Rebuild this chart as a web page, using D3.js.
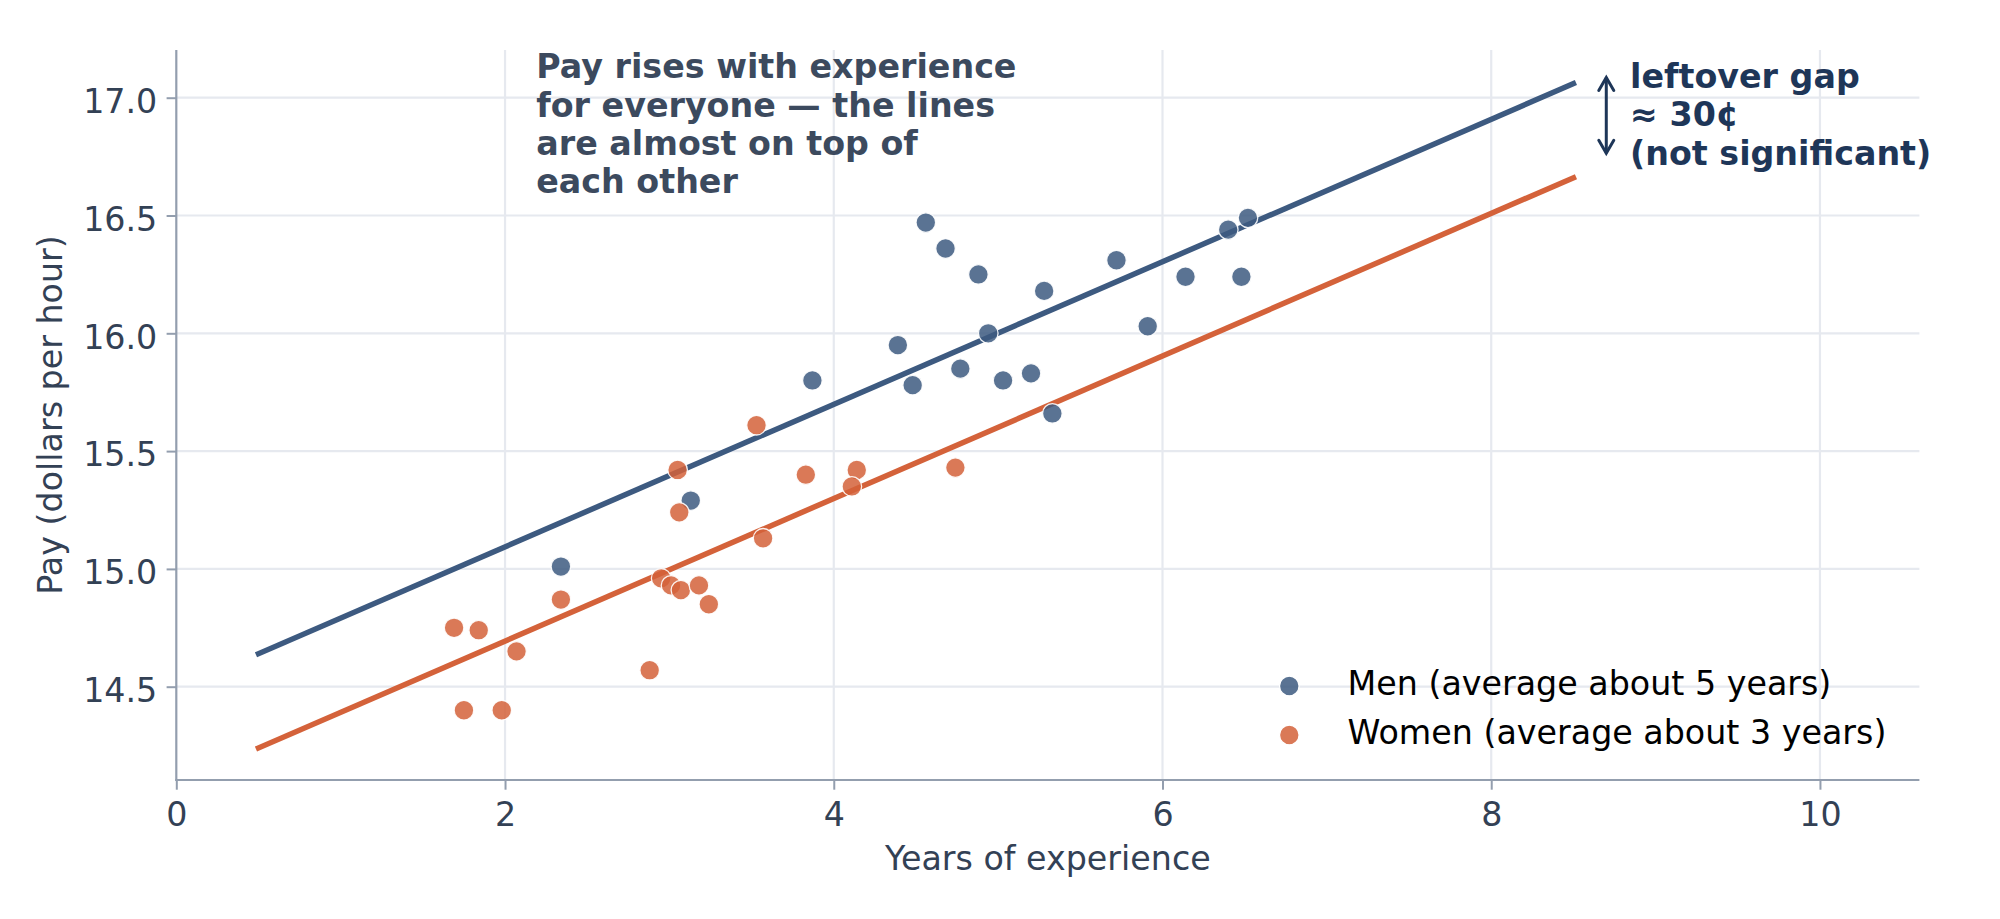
<!DOCTYPE html>
<html>
<head>
<meta charset="utf-8">
<script src="https://cdn.jsdelivr.net/npm/d3@7"></script>
<style>
  html, body { margin: 0; padding: 0; background: #ffffff; }
  svg { display: block; }
  text { font-family: "DejaVu Sans", sans-serif; }
</style>
</head>
<body>
<script>
// ---- data ----
const menX = [3.87, 4.56, 4.68, 4.88, 5.28, 5.72, 6.40, 6.52, 6.14, 6.48, 5.91, 4.94, 4.39, 4.48, 4.77, 5.03, 5.20, 5.33, 3.13, 2.34];
const menY = [15.80, 16.47, 16.36, 16.25, 16.18, 16.31, 16.44, 16.49, 16.24, 16.24, 16.03, 16.00, 15.95, 15.78, 15.85, 15.80, 15.83, 15.66, 15.29, 15.01];
const womenX = [3.53, 3.05, 3.06, 3.83, 4.14, 4.11, 3.57, 2.34, 2.95, 3.01, 3.07, 3.18, 3.24, 1.69, 1.84, 2.07, 2.88, 1.75, 1.98, 4.74];
const womenY = [15.61, 15.42, 15.24, 15.40, 15.42, 15.35, 15.13, 14.87, 14.96, 14.93, 14.91, 14.93, 14.85, 14.75, 14.74, 14.65, 14.57, 14.40, 14.40, 15.43];
const fitX = [0.5, 8.5];
const menFit = [14.64, 17.06];
const womenFit = [14.24, 16.66];
const xTicks = [0, 2, 4, 6, 8, 10];
const yTicks = [14.5, 15.0, 15.5, 16.0, 16.5, 17.0];
const legendLabels = ["Men (average about 5 years)", "Women (average about 3 years)"];
const noteLines = ["Pay rises with experience", "for everyone \u2014 the lines", "are almost on top of", "each other"];
const gapLines = ["leftover gap", "\u2248 30\u00a2", "(not significant)"];
const gapArrow = { x: 8.70, y0: 17.09, y1: 16.76 };
const xLabel = "Years of experience";
const yLabel = "Pay (dollars per hour)";

// ---- layout ----
const W = 2000, H = 919;
const L = 176.3, R = 1919.4, T = 50, B = 780;
const menColor = "#3d5a80", womenColor = "#d4623a";
const gridColor = "#e6e9ef", spineColor = "#939eae", tickText = "#334155";
const FS = 33.3;
const DOT_R = 9.8;

const svg = d3.select("body").append("svg").attr("width", W).attr("height", H);
const x = d3.scaleLinear().domain([0, 10.605]).range([L, R]);
const y = d3.scaleLinear().domain([14.104, 17.2025]).range([B, T]);

// grid
svg.append("g").selectAll("line.gy").data(yTicks).join("line")
  .attr("x1", L).attr("x2", R).attr("y1", d => y(d)).attr("y2", d => y(d))
  .attr("stroke", gridColor).attr("stroke-width", 2.2);
svg.append("g").selectAll("line.gx").data(xTicks.filter(d => d > 0)).join("line")
  .attr("x1", d => x(d)).attr("x2", d => x(d)).attr("y1", T).attr("y2", B)
  .attr("stroke", gridColor).attr("stroke-width", 2.2);

// axes
const xAxis = d3.axisBottom(x).tickValues(xTicks).tickFormat(d3.format("d")).tickSize(9.7).tickPadding(0);
const yAxis = d3.axisLeft(y).tickValues(yTicks).tickFormat(d3.format(".1f")).tickSize(9.7).tickPadding(0);
const gx = svg.append("g").attr("transform", `translate(0,${B})`).call(xAxis);
const gy = svg.append("g").attr("transform", `translate(${L},0)`).call(yAxis);
[gx, gy].forEach(g => {
  g.select(".domain").remove();
  g.selectAll(".tick line").attr("stroke", spineColor).attr("stroke-width", 2);
  g.selectAll(".tick text").attr("fill", tickText).attr("font-size", FS)
    .attr("font-family", "DejaVu Sans, sans-serif");
});
gx.selectAll(".tick text").attr("dy", null).attr("y", 46);
gy.selectAll(".tick text").attr("dy", null).attr("x", -19).attr("y", 14.8);
// spines
svg.append("line").attr("x1", L).attr("x2", L).attr("y1", T).attr("y2", B + 1)
  .attr("stroke", spineColor).attr("stroke-width", 2.2);
svg.append("line").attr("x1", L - 1).attr("x2", R).attr("y1", B).attr("y2", B)
  .attr("stroke", spineColor).attr("stroke-width", 2.2);

// axis labels
svg.append("text").attr("x", (L + R) / 2).attr("y", 870).attr("text-anchor", "middle")
  .attr("font-size", FS).attr("fill", tickText).text(xLabel);
svg.append("text").attr("transform", `translate(62,${(T + B) / 2}) rotate(-90)`)
  .attr("text-anchor", "middle").attr("font-size", FS).attr("fill", tickText).text(yLabel);

// fit lines
const line = d3.line().x(d => x(d[0])).y(d => y(d[1]));
svg.append("path").datum(fitX.map((v, i) => [v, menFit[i]])).attr("d", line)
  .attr("fill", "none").attr("stroke", menColor).attr("stroke-width", 5.5).attr("stroke-linecap", "square");
svg.append("path").datum(fitX.map((v, i) => [v, womenFit[i]])).attr("d", line)
  .attr("fill", "none").attr("stroke", womenColor).attr("stroke-width", 5.5).attr("stroke-linecap", "square");

// scatter
function dots(xs, ys, color) {
  svg.append("g").selectAll("circle").data(xs.map((v, i) => [v, ys[i]])).join("circle")
    .attr("cx", d => x(d[0])).attr("cy", d => y(d[1])).attr("r", DOT_R)
    .attr("fill", color).attr("fill-opacity", 0.85)
    .attr("stroke", "#ffffff").attr("stroke-width", 1.3).attr("stroke-opacity", 0.9);
}
dots(menX, menY, menColor);
dots(womenX, womenY, womenColor);

// note text
const note = svg.append("text").attr("font-size", FS).attr("font-weight", "bold").attr("fill", "#3c4a5e");
noteLines.forEach((t, i) => note.append("tspan").attr("x", x(2.19)).attr("y", 78.3 + i * 38.2).text(t));

// gap arrow
const ax = x(gapArrow.x), ay0 = y(gapArrow.y0), ay1 = y(gapArrow.y1);
const navy = "#1e3658";
svg.append("line").attr("x1", ax).attr("x2", ax).attr("y1", ay0 + 1).attr("y2", ay1 - 1)
  .attr("stroke", navy).attr("stroke-width", 3);
svg.append("path").attr("d", `M${ax - 7.5},${ay0 + 14} L${ax},${ay0 + 1} L${ax + 7.5},${ay0 + 14}`)
  .attr("fill", "none").attr("stroke", navy).attr("stroke-width", 3).attr("stroke-linecap", "round");
svg.append("path").attr("d", `M${ax - 7.5},${ay1 - 14} L${ax},${ay1 - 1} L${ax + 7.5},${ay1 - 14}`)
  .attr("fill", "none").attr("stroke", navy).attr("stroke-width", 3).attr("stroke-linecap", "round");
const gap = svg.append("text").attr("font-size", FS).attr("font-weight", "bold").attr("fill", navy);
gapLines.forEach((t, i) => gap.append("tspan").attr("x", 1630).attr("y", 88.3 + i * 38.1).text(t));

// legend
const legY = [686, 735];
const legCol = [menColor, womenColor];
legendLabels.forEach((t, i) => {
  svg.append("circle").attr("cx", 1289.3).attr("cy", legY[i]).attr("r", DOT_R)
    .attr("fill", legCol[i]).attr("fill-opacity", 0.85)
    .attr("stroke", "#ffffff").attr("stroke-width", 1.3);
  svg.append("text").attr("x", 1347.5).attr("y", legY[i] + 8.5).attr("font-size", FS)
    .attr("fill", "#000000").text(t);
});
</script>
</body>
</html>
